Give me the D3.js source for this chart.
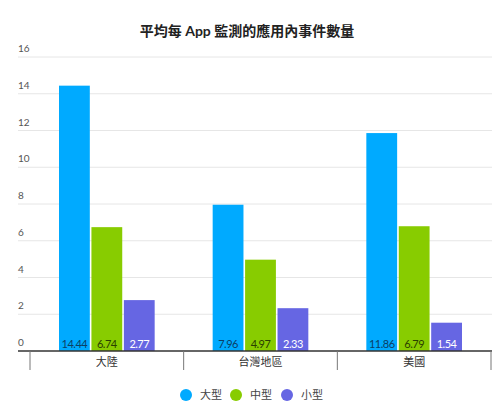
<!DOCTYPE html>
<html>
<head>
<meta charset="utf-8">
<script src="https://cdn.jsdelivr.net/npm/d3@7"></script>
<style>
  body { margin: 0; background: #fff; }
  text { font-family: Lato, "Noto Sans", "Noto Sans CJK TC", sans-serif; }
</style>
</head>
<body>
<div id="chart"></div>
<script>
const categories = ["大陸", "台灣地區", "美國"];
const series = ["大型", "中型", "小型"];
const large = [14.44, 7.96, 11.86];
const medium = [6.74, 4.97, 6.79];
const small = [2.77, 2.33, 1.54];
const yTicks = [0, 2, 4, 6, 8, 10, 12, 14, 16];

const colors = ["#00aaff", "#88cc00", "#6666e3"];
const labelColors = ["#0b3f66", "#2b3f00", "#ffffff"];

const width = 499,
  height = 414;

const svg = d3
  .select("#chart")
  .append("svg")
  .attr("width", width)
  .attr("height", height);

const values = [large, medium, small];

const x0 = d3.scaleBand().domain(categories).range([30, 491]);
const x1 = d3
  .scaleBand()
  .domain(series)
  .range([29, x0.bandwidth() - 29])
  .paddingInner(0.05);
const y = d3.scaleLinear().domain([0, 16]).range([351, 57]);

// title
svg
  .append("text")
  .attr("x", 247)
  .attr("y", 36)
  .attr("text-anchor", "middle")
  .style("font-size", "14px")
  .style("font-weight", "bold")
  .attr("fill", "#222")
  .text("平均每 App 監測的應用內事件數量");

// gridlines + tick labels
const grid = svg.append("g");
grid
  .selectAll("line")
  .data(yTicks.filter((d) => d > 0))
  .join("line")
  .attr("x1", 18)
  .attr("x2", 492)
  .attr("y1", (d) => y(d))
  .attr("y2", (d) => y(d))
  .attr("stroke", "#e6e6e6");
grid
  .selectAll("text")
  .data(yTicks)
  .join("text")
  .attr("x", 18)
  .attr("y", (d) => y(d) - 5)
  .style("font-size", "10px")
  .attr("fill", "#555")
  .text((d) => d);

// bars
const rows = [];
categories.forEach((c, i) => {
  series.forEach((s, j) => {
    rows.push({ cat: c, ser: s, j: j, v: values[j][i] });
  });
});

svg
  .append("g")
  .selectAll("rect")
  .data(rows)
  .join("rect")
  .attr("x", (d) => x0(d.cat) + x1(d.ser))
  .attr("y", (d) => y(d.v))
  .attr("width", x1.bandwidth())
  .attr("height", (d) => y(0) - y(d.v))
  .attr("fill", (d) => colors[d.j]);

svg
  .append("g")
  .selectAll("text")
  .data(rows)
  .join("text")
  .attr("x", (d) => x0(d.cat) + x1(d.ser) + x1.bandwidth() / 2)
  .attr("y", y(0) - 3)
  .attr("text-anchor", "middle")
  .style("font-size", "11px")
  .style("letter-spacing", "-0.5px")
  .attr("fill", (d) => labelColors[d.j])
  .text((d) => d.v.toFixed(2));

// category axis
const axis = svg.append("g");
axis
  .append("line")
  .attr("x1", 18)
  .attr("x2", 492)
  .attr("y1", y(0))
  .attr("y2", y(0))
  .attr("stroke", "#333")
  .attr("stroke-width", 1.5);
const dividers = categories.map((c) => x0(c)).concat([x0.range()[1]]);
axis
  .selectAll(".div")
  .data(dividers)
  .join("line")
  .attr("class", "div")
  .attr("x1", (d) => d)
  .attr("x2", (d) => d)
  .attr("y1", y(0))
  .attr("y2", 370)
  .attr("stroke", "#777");
axis
  .selectAll(".cat")
  .data(categories)
  .join("text")
  .attr("class", "cat")
  .attr("x", (d) => x0(d) + x0.bandwidth() / 2)
  .attr("y", 366)
  .attr("text-anchor", "middle")
  .style("font-size", "11px")
  .attr("fill", "#333")
  .text((d) => d);

// legend
const legendX = [186, 236, 287];
const legend = svg
  .append("g")
  .selectAll("g")
  .data(series)
  .join("g")
  .attr("transform", (d, i) => `translate(${legendX[i]},395)`);
legend
  .append("circle")
  .attr("r", 6)
  .attr("fill", (d, i) => colors[i]);
legend
  .append("text")
  .attr("x", 14)
  .attr("y", 4)
  .style("font-size", "11px")
  .attr("fill", "#444")
  .text((d) => d);
</script>
</body>
</html>
